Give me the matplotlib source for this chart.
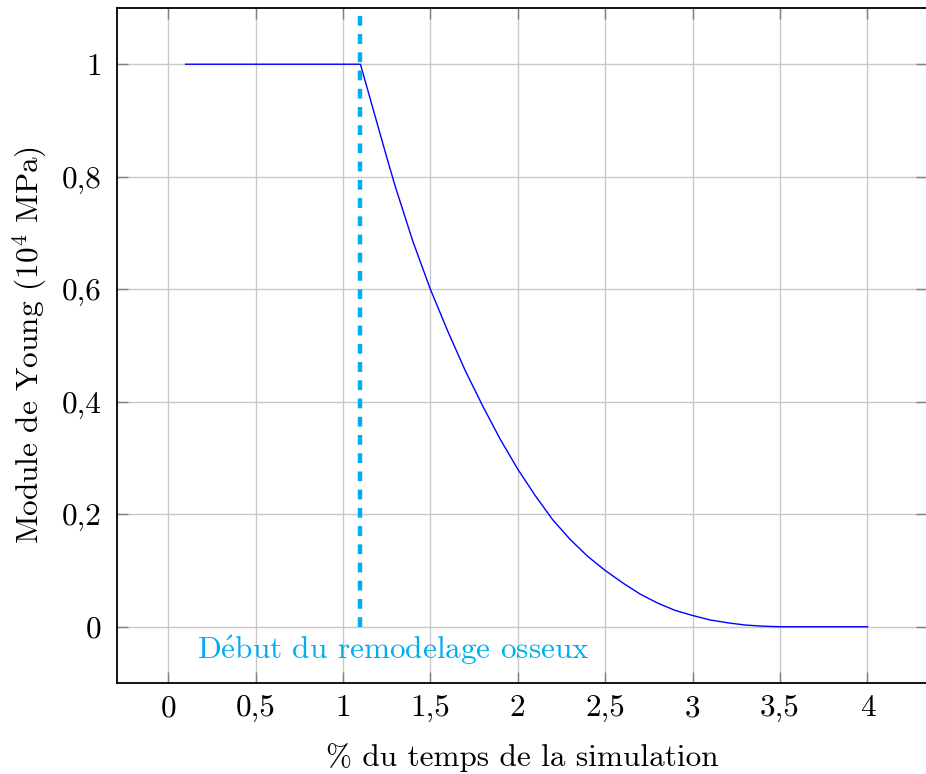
import matplotlib.pyplot as plt
from matplotlib.ticker import FuncFormatter

plt.rcParams['font.family'] = ['cmr10', 'DejaVu Serif']
plt.rcParams['mathtext.fontset'] = 'cm'
plt.rcParams['axes.formatter.use_mathtext'] = True

# Young's modulus over simulation time
temps = [0.1, 1.1, 1.15, 1.2, 1.25, 1.3, 1.4, 1.5, 1.6, 1.7, 1.8, 1.9, 2.0,
         2.1, 2.2, 2.3, 2.4, 2.5, 2.6, 2.7, 2.8, 2.9, 3.0, 3.1, 3.2, 3.3,
         3.4, 3.5, 4.0]
module = [1.0, 1.0, 0.945, 0.89, 0.835, 0.782, 0.685, 0.60, 0.525, 0.455,
          0.392, 0.333, 0.28, 0.233, 0.19, 0.155, 0.125, 0.10, 0.078, 0.058,
          0.042, 0.029, 0.02, 0.012, 0.007, 0.003, 0.001, 0.0, 0.0]
debut_remodelage = 1.1
xticks = [0, 0.5, 1, 1.5, 2, 2.5, 3, 3.5, 4]
yticks = [0, 0.2, 0.4, 0.6, 0.8, 1]

cyan = '#00aeef'

fig = plt.figure(figsize=(9.26, 7.74), dpi=100)
ax = fig.add_axes([0.1264, 0.1176, 0.8746, 0.8721])

ax.plot(temps, module, color='#0000ff', lw=1.0, zorder=3)
ax.plot([debut_remodelage, debut_remodelage], [0, 1.1], color=cyan, lw=3.2,
        dashes=(2.2, 1.9), zorder=4, clip_on=False)
ax.text(1.29, -0.042, r'D$\mathrm{\acute{e}}$but du remodelage osseux',
        color=cyan, fontsize=22.5, ha='center', va='center')

ax.set_xlim(-0.292, 4.34)
ax.set_ylim(-0.1, 1.1)
ax.set_xticks(xticks)
ax.set_yticks(yticks)
fmt = FuncFormatter(lambda v, p: ('%g' % v).replace('.', ','))
ax.xaxis.set_major_formatter(fmt)
ax.yaxis.set_major_formatter(fmt)

ax.grid(True, color='#c8c8c8', lw=1.0)
ax.set_axisbelow(True)
ax.tick_params(direction='in', length=8, width=1, color='#808080',
               top=True, right=True, labelsize=22.5)
ax.tick_params(axis='x', pad=8)
ax.tick_params(axis='y', pad=11)
for s in ax.spines.values():
    s.set_linewidth(1.3)

ax.set_xlabel(r'% du temps de la simulation', fontsize=22.5, labelpad=15)
ax.set_ylabel(r'Module de Young ($10^4$ MPa)', fontsize=22.5, labelpad=9)

fig.savefig('out.png', dpi=100)
